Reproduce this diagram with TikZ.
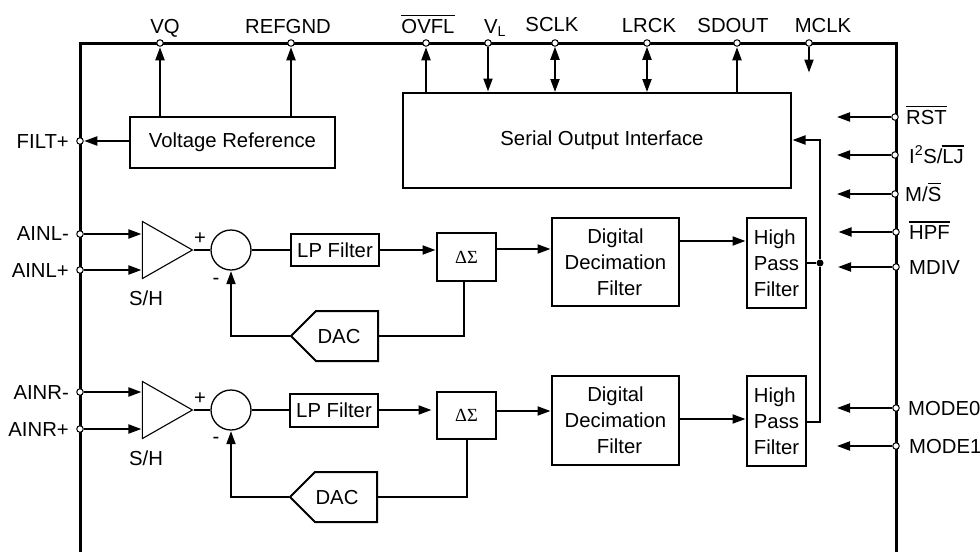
\documentclass[tikz,border=0pt]{standalone}
\usepackage{fontspec}
\setmainfont{Liberation Sans}
\newfontfamily\grfont{Liberation Serif}
\usetikzlibrary{arrows.meta,shapes.geometric,shapes.symbols,calc}
\newcommand{\barover}[1]{\leavevmode\vbox{\hrule height 1.3pt\kern 2.6pt\hbox{#1}}}
\tikzset{
  x=1pt,y=-1pt,
  every node/.style={font=\fontsize{20.3}{26}\selectfont},
  wire/.style={line width=2pt},
  tip/.style={-{Triangle[length=13pt,width=9pt]},shorten >=0.5pt},
  tiptwo/.style={{Triangle[length=13pt,width=9pt]}-{Triangle[length=13pt,width=9pt]}},
  frameline/.style={line width=3pt,line cap=butt,line join=miter},
  pin/.style={circle,draw,fill=white,line width=1pt,minimum size=6.5pt,inner sep=0pt},
  box/.style={draw,line width=2pt,inner sep=0pt,align=center},
  lab/.style={inner sep=0pt,text height=14.3pt,text depth=0pt},
  amp/.style={isosceles triangle,isosceles triangle stretches,draw,line width=1.1pt,inner sep=0pt,minimum width=57pt,minimum height=50pt,shape border rotate=0},
  sumnode/.style={circle,draw,line width=1.3pt,minimum size=40pt,inner sep=0pt},
  dacbox/.style={signal,signal to=west,signal from=nowhere,signal pointer angle=90,draw,line width=2pt,inner sep=0pt,minimum width=87pt,minimum height=50pt},
  dotnode/.style={circle,fill=black,minimum size=7pt,inner sep=0pt},
}
\begin{document}
\begin{tikzpicture}
\useasboundingbox (0,0) rectangle (980,552);
\draw[frameline] (80.5,552) -- (80.5,43) -- (896,43) -- (896,552);

% blocks
\node[box,minimum width=205pt,minimum height=51pt] (vr) at (232.5,142) {Voltage Reference};
\node[box,minimum width=388pt,minimum height=95pt] (serial) at (597,140.5) {\hspace*{10pt}Serial Output Interface};
\node[amp] (sha) at (159,250) {};
\node[amp] (shb) at (159,410) {};
\node[sumnode] (suma) at (231,250) {};
\node[sumnode] (sumb) at (231,410) {};
\node[box,minimum width=88pt,minimum height=32pt] (lpa) at (335,250) {LP Filter};
\node[box,minimum width=88pt,minimum height=33pt] (lpb) at (334,410) {LP Filter};
\node[box,minimum width=59pt,minimum height=48pt,font=\grfont\fontsize{18.5}{22}\selectfont] (dsa) at (466.5,257) {ΔΣ};
\node[box,minimum width=59pt,minimum height=47pt,font=\grfont\fontsize{18.5}{22}\selectfont] (dsb) at (466.5,415) {ΔΣ};
\node[box,minimum width=127pt,minimum height=88pt] (dda) at (615.5,262) {Digital\\Decimation\\\hspace*{8pt}Filter};
\node[box,minimum width=127pt,minimum height=89pt] (ddb) at (615.5,420.5) {Digital\\Decimation\\\hspace*{8pt}Filter};
\node[box,minimum width=59pt,minimum height=90pt,align=left] (hpa) at (776.5,263) {High\\Pass\\Filter};
\node[box,minimum width=59pt,minimum height=90pt,align=left] (hpb) at (776.5,421) {High\\Pass\\Filter};
\node[dacbox] (daca) at (347,336) {};
\node[dacbox] (dacb) at (346,497) {};
\node[lab] (dacatext) at (339,336.5) {DAC};
\node[lab] (dacbtext) at (337,497) {DAC};

% pins
\node[pin] (vq) at (160,43) {};
\node[pin] (refgnd) at (291,43) {};
\node[pin] (ovfl) at (426,43) {};
\node[pin] (vl) at (488,43) {};
\node[pin] (sclk) at (555,43) {};
\node[pin] (lrck) at (647,43) {};
\node[pin] (sdout) at (737,43) {};
\node[pin] (mclk) at (809,43) {};
\node[pin] (filt) at (80,141) {};
\node[pin] (ainlm) at (80,234) {};
\node[pin] (ainlp) at (80,270) {};
\node[pin] (ainrm) at (80,392) {};
\node[pin] (ainrp) at (80,429) {};
\node[pin] (rst) at (895,117) {};
\node[pin] (iis) at (895,155) {};
\node[pin] (ms) at (895,194) {};
\node[pin] (hpf) at (896,232) {};
\node[pin] (mdiv) at (896,267) {};
\node[pin] (modezero) at (896,408) {};
\node[pin] (modeone) at (896,446) {};
\node[dotnode] (junction) at (820,263) {};

% free ends
\coordinate (mclkend) at (809,73);
\coordinate (rstend) at (836.5,117);
\coordinate (iisend) at (836.5,155);
\coordinate (msend) at (836.5,194);
\coordinate (hpfend) at (838,232);
\coordinate (mdivend) at (837.5,267);
\coordinate (modezeroend) at (836.5,408);
\coordinate (modeoneend) at (836.5,446);

% labels
\node[lab] (tvq) at (165,26) {VQ};
\node[lab] (trefgnd) at (288,26) {REFGND};
\node[lab] (tovfl) at (428,26) {\barover{OVFL}};
\node[lab] (tvl) at (495,26) {V\textsubscript{L}};
\node[lab] (tsclk) at (552,24) {SCLK};
\node[lab] (tlrck) at (649,25) {LRCK};
\node[lab] (tsdout) at (733,25) {SDOUT};
\node[lab] (tmclk) at (823,25) {MCLK};
\node[lab,anchor=east] (tfilt) at (69,141) {FILT+};
\node[lab,anchor=east] (tainlm) at (69,233) {AINL-};
\node[lab,anchor=east] (tainlp) at (69,270) {AINL+};
\node[lab,anchor=east] (tainrm) at (69,392) {AINR-};
\node[lab,anchor=east] (tainrp) at (69,429) {AINR+};
\node[lab,anchor=west] (trst) at (906,117) {\barover{RST}};
\node[lab,anchor=west] (tiis) at (909,156) {I\textsuperscript{2}S/\barover{LJ}};
\node[lab,anchor=west] (tms) at (905,194) {M/\barover{S}};
\node[lab,anchor=west] (thpf) at (909,232) {\barover{HPF}};
\node[lab,anchor=west] (tmdiv) at (909,267) {MDIV};
\node[lab,anchor=west] (tmodezero) at (908,408) {MODE0};
\node[lab,anchor=west] (tmodeone) at (909,446) {MODE1};
\node[lab] (shatext) at (146,298) {S/H};
\node[lab] (shbtext) at (146,458) {S/H};
\node[lab] (plusa) at (200,237) {+};
\node[lab] (minusa) at (216,277) {-};
\node[lab] (plusb) at (200,397) {+};
\node[lab] (minusb) at (216,436) {-};

% connectors: top
\draw[wire,tip] (vr.north -| vq) -- (vq);
\draw[wire,tip] (vr.north -| refgnd) -- (refgnd);
\draw[wire,tip] (vr.west |- filt) -- (filt);
\draw[wire,tip] (serial.north -| ovfl) -- (ovfl);
\draw[wire,tip] (vl) -- (serial.north -| vl);
\draw[wire,tiptwo] (sclk) -- (serial.north -| sclk);
\draw[wire,tiptwo] (lrck) -- (serial.north -| lrck);
\draw[wire,tip] (serial.north -| sdout) -- (sdout);
\draw[wire,tip] (mclk) -- (mclkend);
% right pins
\draw[wire,tip] (rst) -- (rstend);
\draw[wire,tip] (iis) -- (iisend);
\draw[wire,tip] (ms) -- (msend);
\draw[wire,tip] (hpf) -- (hpfend);
\draw[wire,tip] (mdiv) -- (mdivend);
\draw[wire,tip] (modezero) -- (modezeroend);
\draw[wire,tip] (modeone) -- (modeoneend);
% left channel
\draw[wire,tip] (ainlm) -- (ainlm -| sha.west);
\draw[wire,tip] (ainlp) -- (ainlp -| sha.west);
\draw[wire] (sha.apex) -- (suma.west);
\draw[wire] (suma.east) -- (lpa.west);
\draw[wire,tip] (lpa.east) -- (lpa.east -| dsa.west);
\draw[wire,tip] (dsa.east |- 0,249) -- (dda.west |- 0,249);
\draw[wire,tip] (dda.east |- 0,241) -- (hpa.west |- 0,241);
\draw[wire] (hpa.east |- junction) -- (junction);
\draw[wire,tip] (junction) |- (serial.east |- 0,140);
\draw[wire] (daca.east) -- (daca.east -| 464,0) -- (464,281);
\draw[wire,tip] (daca.west) -| (suma.south);
% right channel
\draw[wire,tip] (ainrm) -- (ainrm -| shb.west);
\draw[wire,tip] (ainrp) -- (ainrp -| shb.west);
\draw[wire] (shb.apex) -- (sumb.west);
\draw[wire] (sumb.east) -- (lpb.west);
\draw[wire,tip] (lpb.east) -- ([xshift=-4pt]lpb.east -| dsb.west);
\draw[wire,tip] (dsb.east |- 0,411) -- (ddb.west |- 0,411);
\draw[wire,tip] (ddb.east |- 0,419) -- (hpb.west |- 0,419);
\draw[wire] (hpb.east |- 0,422) -| (junction);
\draw[wire] (dacb.east) -| (dsb.south);
\draw[wire,tip] (dacb.west) -| (sumb.south);
\end{tikzpicture}
\end{document}
